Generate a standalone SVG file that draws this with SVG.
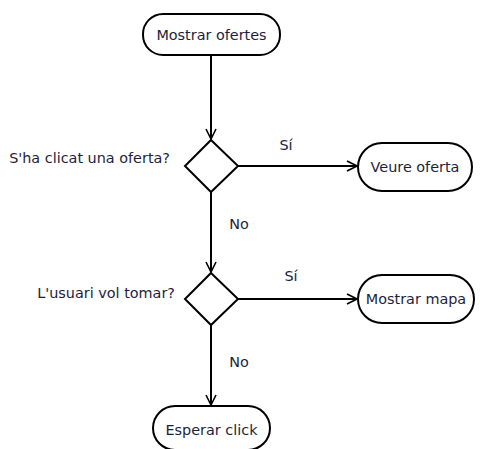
<svg xmlns="http://www.w3.org/2000/svg" width="480" height="449" viewBox="0 0 480 449">
  <style>
    .node { fill: #ffffff; stroke: #000000; stroke-width: 2; }
    .edge { fill: none; stroke: #000000; stroke-width: 2; }
    .lbl { font-family: "DejaVu Sans", "Liberation Sans", sans-serif; font-size: 14.4px; fill: #1e1e3c; }
    .mid { text-anchor: middle; dominant-baseline: central; }
  </style>
  <defs>
    <marker id="open" viewBox="0 0 12 12" refX="11" refY="6" markerWidth="12" markerHeight="12" markerUnits="userSpaceOnUse" orient="auto">
      <path d="M1,1 L11,6 L1,11" fill="none" stroke="#000" stroke-width="1.6"/>
    </marker>
  </defs>
  <rect width="480" height="449" fill="#ffffff"/>

  <g id="connectors">
    <line class="edge" x1="211" y1="55" x2="211" y2="139" marker-end="url(#open)"/>
    <line class="edge" x1="238" y1="166" x2="357" y2="166" marker-end="url(#open)"/>
    <line class="edge" x1="211" y1="192" x2="211" y2="272" marker-end="url(#open)"/>
    <line class="edge" x1="238" y1="299" x2="357" y2="299" marker-end="url(#open)"/>
    <line class="edge" x1="211" y1="325" x2="211" y2="405" marker-end="url(#open)"/>
    <text class="lbl mid" x="286" y="145">Sí</text>
    <text class="lbl mid" x="239" y="224">No</text>
    <text class="lbl mid" x="291" y="276">Sí</text>
    <text class="lbl mid" x="239" y="362">No</text>
  </g>

  <g id="mostrar-ofertes">
    <rect class="node" x="143" y="14" width="137" height="41" rx="20"/>
    <text class="lbl mid" x="211.5" y="35">Mostrar ofertes</text>
  </g>

  <g id="clicat-oferta">
    <polygon class="node" points="211,140 238,166 211,192 185,166"/>
    <text class="lbl" x="170" y="158" text-anchor="end" dominant-baseline="central">S'ha clicat una oferta?</text>
  </g>

  <g id="veure-oferta">
    <rect class="node" x="358" y="143" width="114" height="48" rx="24"/>
    <text class="lbl mid" x="415" y="167">Veure oferta</text>
  </g>

  <g id="vol-tornar">
    <polygon class="node" points="211,273 238,299 211,325 185,299"/>
    <text class="lbl" x="175" y="293" text-anchor="end" dominant-baseline="central">L'usuari vol tomar?</text>
  </g>

  <g id="mostrar-mapa">
    <rect class="node" x="358" y="275" width="116" height="48" rx="24"/>
    <text class="lbl mid" x="416" y="299">Mostrar mapa</text>
  </g>

  <g id="esperar-click">
    <rect class="node" x="153" y="406" width="117" height="44" rx="22"/>
    <text class="lbl mid" x="211.5" y="430">Esperar click</text>
  </g>
</svg>
